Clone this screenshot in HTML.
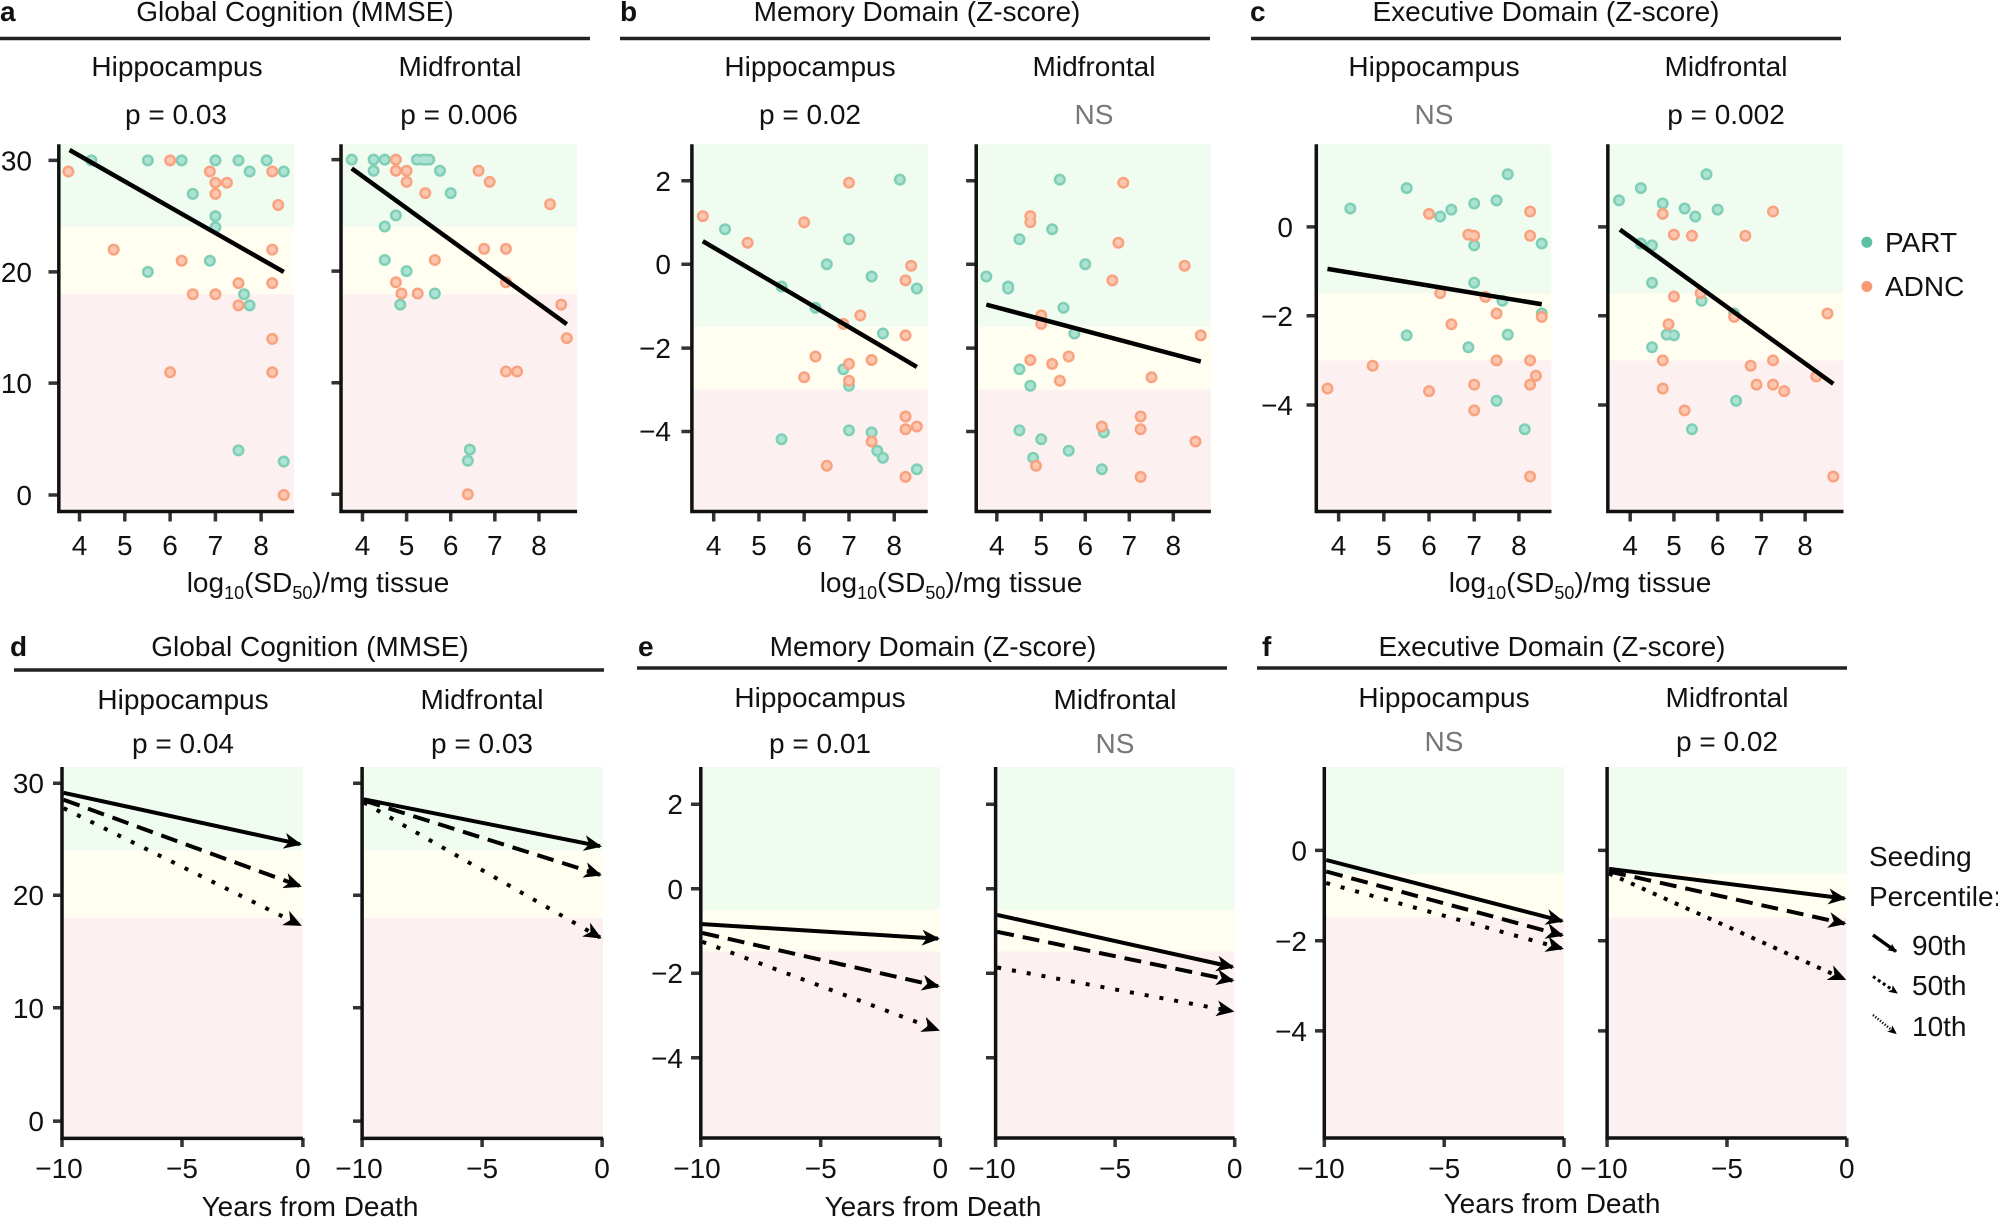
<!DOCTYPE html>
<html><head><meta charset="utf-8"><style>
html,body{margin:0;padding:0;background:#fff;}
svg{display:block;}
text{font-family:"Liberation Sans",Arial,sans-serif;fill:#111;}
.t{font-size:28px;}
.ns{fill:#777;}
.b{font-weight:bold;}
.ax{stroke:#111;stroke-width:3.5;fill:none;vector-effect:non-scaling-stroke;}
.tk{stroke:#333;stroke-width:3.5;fill:none;vector-effect:non-scaling-stroke;}
.rg{stroke:#000;stroke-width:4.5;fill:none;vector-effect:non-scaling-stroke;}
.to{stroke:#7fcfb6;stroke-width:12;stroke-linecap:round;fill:none;vector-effect:non-scaling-stroke;}
.ti{stroke:#ace3d2;stroke-width:7;stroke-linecap:round;fill:none;vector-effect:non-scaling-stroke;}
.oo{stroke:#f9a27f;stroke-width:12;stroke-linecap:round;fill:none;vector-effect:non-scaling-stroke;}
.oi{stroke:#fcc7b1;stroke-width:7;stroke-linecap:round;fill:none;vector-effect:non-scaling-stroke;}
.ln{stroke:#000;stroke-width:4;fill:none;}
.rule{stroke:#222;stroke-width:3.5;}
</style></head><body>
<svg width="1998" height="1219" viewBox="0 0 1998 1219" xmlns="http://www.w3.org/2000/svg">
<defs>
<marker id="ar" markerUnits="userSpaceOnUse" viewBox="-18 -9 20 18" markerWidth="20" markerHeight="18" refX="0" refY="0" orient="auto" overflow="visible">
<path d="M2,0 L-16,-8 L-11,0 L-16,8 Z" fill="#000"/>
</marker>
<marker id="ars" markerUnits="userSpaceOnUse" viewBox="-10 -5 12 10" markerWidth="12" markerHeight="10" refX="0" refY="0" orient="auto" overflow="visible">
<path d="M1,0 L-8,-4 L-6,0 L-8,4 Z" fill="#000"/>
</marker>
</defs>

<!-- ===== Panel a ===== -->
<g transform="translate(0,0) scale(0.39746,0.38462)">
<rect x="148" y="375" width="592" height="215" fill="#f0fcf0"/>
<rect x="148" y="590" width="592" height="175" fill="#fffef0"/>
<rect x="148" y="765" width="592" height="565" fill="#fdf0f0"/>
<rect x="862" y="375" width="590" height="215" fill="#f0fcf0"/>
<rect x="862" y="590" width="590" height="175" fill="#fffef0"/>
<rect x="862" y="765" width="590" height="565" fill="#fdf0f0"/>
<path class="tk" d="M122 417H148M122 707H148M122 996H148M122 1287H148M200 1330V1356M314 1330V1356M428 1330V1356M542 1330V1356M657 1330V1356"/>
<path class="tk" d="M834 415H858M834 705H858M834 995H858M834 1285H858M912 1330V1356M1023 1330V1356M1134 1330V1356M1245 1330V1356M1356 1330V1356"/>
<path class="to" d="M230 417h0M372 417h0M457 417h0M542 417h0M600 417h0M671 417h0M628 446h0M714 446h0M485 504h0M542 562h0M542 591h0M528 678h0M372 707h0M614 765h0M628 794h0M600 1171h0M714 1200h0"/>
<path class="ti" d="M230 417h0M372 417h0M457 417h0M542 417h0M600 417h0M671 417h0M628 446h0M714 446h0M485 504h0M542 562h0M542 591h0M528 678h0M372 707h0M614 765h0M628 794h0M600 1171h0M714 1200h0"/>
<path class="oo" d="M172 446h0M428 417h0M528 446h0M685 446h0M542 475h0M571 475h0M542 504h0M700 533h0M286 649h0M685 649h0M457 678h0M600 736h0M685 736h0M485 765h0M542 765h0M600 794h0M685 881h0M428 968h0M685 968h0M714 1287h0"/>
<path class="oi" d="M172 446h0M428 417h0M528 446h0M685 446h0M542 475h0M571 475h0M542 504h0M700 533h0M286 649h0M685 649h0M457 678h0M600 736h0M685 736h0M485 765h0M542 765h0M600 794h0M685 881h0M428 968h0M685 968h0M714 1287h0"/>
<path class="to" d="M885 415h0M940 415h0M968 415h0M1049 415h0M1064 415h0M1071 415h0M1080 415h0M940 444h0M1107 444h0M1134 502h0M996 560h0M968 589h0M968 676h0M1023 705h0M1094 763h0M1007 792h0M1182 1169h0M1177 1198h0"/>
<path class="ti" d="M885 415h0M940 415h0M968 415h0M1049 415h0M1064 415h0M1071 415h0M1080 415h0M940 444h0M1107 444h0M1134 502h0M996 560h0M968 589h0M968 676h0M1023 705h0M1094 763h0M1007 792h0M1182 1169h0M1177 1198h0"/>
<path class="oo" d="M996 415h0M996 444h0M1023 444h0M1204 444h0M1023 473h0M1232 473h0M1070 502h0M1384 531h0M1218 647h0M1273 647h0M1094 676h0M996 734h0M1273 734h0M1010 763h0M1051 763h0M1412 792h0M1426 879h0M1273 966h0M1301 966h0M1177 1285h0"/>
<path class="oi" d="M996 415h0M996 444h0M1023 444h0M1204 444h0M1023 473h0M1232 473h0M1070 502h0M1384 531h0M1218 647h0M1273 647h0M1094 676h0M996 734h0M1273 734h0M1010 763h0M1051 763h0M1412 792h0M1426 879h0M1273 966h0M1301 966h0M1177 1285h0"/>
<path class="rg" d="M175 390L714 707"/>
<path class="rg" d="M885 438L1426 843"/>
<path class="ax" d="M148 375V1330H740"/>
<path class="ax" d="M858 375V1330H1452"/>
</g>

<!-- ===== Panel b ===== -->
<g transform="translate(620,0) scale(0.40388,0.38462)">
<rect x="178" y="375" width="584" height="475" fill="#f0fcf0"/>
<rect x="178" y="850" width="584" height="163" fill="#fffef0"/>
<rect x="178" y="1013" width="584" height="317" fill="#fdf0f0"/>
<rect x="882" y="375" width="581" height="475" fill="#f0fcf0"/>
<rect x="882" y="850" width="581" height="163" fill="#fffef0"/>
<rect x="882" y="1013" width="581" height="317" fill="#fdf0f0"/>
<path class="tk" d="M152 470H178M152 687H178M152 905H178M152 1122H178M232 1330V1356M344 1330V1356M456 1330V1356M567 1330V1356M679 1330V1356"/>
<path class="tk" d="M857 470H882M857 687H882M857 905H882M857 1122H882M933 1330V1356M1043 1330V1356M1152 1330V1356M1261 1330V1356M1370 1330V1356"/>
<path class="to" d="M260 596h0M693 467h0M567 622h0M512 687h0M623 719h0M735 750h0M400 745h0M484 800h0M651 867h0M553 960h0M567 1003h0M567 1119h0M623 1124h0M400 1142h0M637 1172h0M651 1190h0M735 1220h0"/>
<path class="ti" d="M260 596h0M693 467h0M567 622h0M512 687h0M623 719h0M735 750h0M400 745h0M484 800h0M651 867h0M553 960h0M567 1003h0M567 1119h0M623 1124h0M400 1142h0M637 1172h0M651 1190h0M735 1220h0"/>
<path class="oo" d="M205 562h0M316 631h0M456 578h0M567 475h0M721 691h0M707 729h0M595 820h0M553 842h0M707 872h0M484 927h0M623 936h0M567 946h0M456 981h0M567 990h0M707 1083h0M735 1109h0M707 1116h0M623 1148h0M512 1211h0M707 1240h0"/>
<path class="oi" d="M205 562h0M316 631h0M456 578h0M567 475h0M721 691h0M707 729h0M595 820h0M553 842h0M707 872h0M484 927h0M623 936h0M567 946h0M456 981h0M567 990h0M707 1083h0M735 1109h0M707 1116h0M623 1148h0M512 1211h0M707 1240h0"/>
<path class="to" d="M1089 467h0M1070 596h0M989 622h0M1152 687h0M907 719h0M961 745h0M961 750h0M1098 800h0M1125 867h0M989 960h0M1016 1003h0M989 1119h0M1198 1124h0M1043 1142h0M1111 1172h0M1023 1190h0M1193 1220h0"/>
<path class="ti" d="M1089 467h0M1070 596h0M989 622h0M1152 687h0M907 719h0M961 745h0M961 750h0M1098 800h0M1125 867h0M989 960h0M1016 1003h0M989 1119h0M1198 1124h0M1043 1142h0M1111 1172h0M1023 1190h0M1193 1220h0"/>
<path class="oo" d="M1246 475h0M1016 562h0M1016 578h0M1234 631h0M1398 691h0M1219 729h0M1043 820h0M1043 842h0M1438 872h0M1016 936h0M1070 946h0M1111 927h0M1316 981h0M1089 990h0M1289 1083h0M1193 1109h0M1289 1116h0M1030 1211h0M1289 1240h0M1425 1148h0"/>
<path class="oi" d="M1246 475h0M1016 562h0M1016 578h0M1234 631h0M1398 691h0M1219 729h0M1043 820h0M1043 842h0M1438 872h0M1016 936h0M1070 946h0M1111 927h0M1316 981h0M1089 990h0M1289 1083h0M1193 1109h0M1289 1116h0M1030 1211h0M1289 1240h0M1425 1148h0"/>
<path class="rg" d="M205 627L735 954"/>
<path class="rg" d="M907 792L1438 940"/>
<path class="ax" d="M178 375V1330H762"/>
<path class="ax" d="M882 375V1330H1463"/>
</g>

<!-- ===== Panel c ===== -->
<g transform="translate(1240,0) scale(0.48591,0.38462)">
<rect x="157" y="375" width="484" height="388" fill="#f0fcf0"/>
<rect x="157" y="763" width="484" height="174" fill="#fffef0"/>
<rect x="157" y="937" width="484" height="393" fill="#fdf0f0"/>
<rect x="757" y="375" width="485" height="388" fill="#f0fcf0"/>
<rect x="757" y="763" width="485" height="174" fill="#fffef0"/>
<rect x="757" y="937" width="485" height="393" fill="#fdf0f0"/>
<path class="tk" d="M137 590H157M137 821H157M137 1053H157M203 1330V1356M296 1330V1356M389 1330V1356M482 1330V1356M574 1330V1356"/>
<path class="tk" d="M737 590H757M737 821H757M737 1053H757M803 1330V1356M893 1330V1356M983 1330V1356M1073 1330V1356M1163 1330V1356"/>
<path class="to" d="M227 542h0M343 489h0M412 563h0M435 545h0M482 529h0M528 521h0M551 453h0M482 638h0M621 633h0M482 735h0M540 782h0M621 815h0M343 872h0M551 870h0M470 903h0M528 1042h0M586 1116h0"/>
<path class="ti" d="M227 542h0M343 489h0M412 563h0M435 545h0M482 529h0M528 521h0M551 453h0M482 638h0M621 633h0M482 735h0M540 782h0M621 815h0M343 872h0M551 870h0M470 903h0M528 1042h0M586 1116h0"/>
<path class="oo" d="M389 556h0M597 550h0M470 610h0M482 613h0M597 613h0M412 762h0M505 772h0M528 815h0M621 824h0M435 843h0M273 951h0M528 937h0M597 937h0M609 977h0M180 1010h0M389 1017h0M482 1000h0M597 1000h0M482 1067h0M597 1239h0"/>
<path class="oi" d="M389 556h0M597 550h0M470 610h0M482 613h0M597 613h0M412 762h0M505 772h0M528 815h0M621 824h0M435 843h0M273 951h0M528 937h0M597 937h0M609 977h0M180 1010h0M389 1017h0M482 1000h0M597 1000h0M482 1067h0M597 1239h0"/>
<path class="to" d="M780 521h0M825 489h0M870 529h0M915 542h0M937 563h0M983 545h0M960 453h0M825 633h0M848 638h0M848 735h0M950 782h0M1017 815h0M878 870h0M893 872h0M848 903h0M1021 1042h0M930 1116h0"/>
<path class="ti" d="M780 521h0M825 489h0M870 529h0M915 542h0M937 563h0M983 545h0M960 453h0M825 633h0M848 638h0M848 735h0M950 782h0M1017 815h0M878 870h0M893 872h0M848 903h0M1021 1042h0M930 1116h0"/>
<path class="oo" d="M870 556h0M1097 550h0M893 610h0M930 613h0M1040 613h0M893 771h0M948 762h0M1017 824h0M1209 815h0M882 843h0M870 937h0M1051 951h0M1097 937h0M1186 979h0M870 1010h0M1063 1000h0M1097 1000h0M1120 1017h0M915 1067h0M1221 1239h0"/>
<path class="oi" d="M870 556h0M1097 550h0M893 610h0M930 613h0M1040 613h0M893 771h0M948 762h0M1017 824h0M1209 815h0M882 843h0M870 937h0M1051 951h0M1097 937h0M1186 979h0M870 1010h0M1063 1000h0M1097 1000h0M1120 1017h0M915 1067h0M1221 1239h0"/>
<path class="rg" d="M180 699L621 791"/>
<path class="rg" d="M782 597L1221 998"/>
<path class="ax" d="M157 375V1330H641"/>
<path class="ax" d="M757 375V1330H1242"/>
<path style="stroke:#5cc0a2;stroke-width:11;stroke-linecap:round;vector-effect:non-scaling-stroke" d="M1290 630h0"/>
<path style="stroke:#f99a72;stroke-width:11;stroke-linecap:round;vector-effect:non-scaling-stroke" d="M1290 745h0"/>
</g>

<!-- Row 1 text -->
<g class="t">
<text x="0" y="21" class="b t">a</text>
<text x="295" y="21" text-anchor="middle" class="t">Global Cognition (MMSE)</text>
<line x1="0" y1="38.5" x2="590" y2="38.5" class="rule"/>
<text x="177" y="76" text-anchor="middle" class="t">Hippocampus</text>
<text x="176" y="124" text-anchor="middle" class="t">p = 0.03</text>
<text x="460" y="76" text-anchor="middle" class="t">Midfrontal</text>
<text x="459" y="124" text-anchor="middle" class="t">p = 0.006</text>
<g text-anchor="end" class="t"><text x="32" y="170.5">30</text><text x="32" y="282">20</text><text x="32" y="393">10</text><text x="32" y="505">0</text></g>
<g text-anchor="middle" class="t"><text x="79.5" y="555">4</text><text x="124.8" y="555">5</text><text x="170.1" y="555">6</text><text x="215.4" y="555">7</text><text x="261.1" y="555">8</text>
<text x="362.5" y="555">4</text><text x="406.6" y="555">5</text><text x="450.7" y="555">6</text><text x="494.8" y="555">7</text><text x="538.9" y="555">8</text></g>
<text x="318" y="592" text-anchor="middle" class="t">log<tspan font-size="18" dy="7">10</tspan><tspan dy="-7">(SD</tspan><tspan font-size="18" dy="7">50</tspan><tspan dy="-7">)/mg tissue</tspan></text>

<text x="620" y="21" class="b t">b</text>
<text x="917" y="21" text-anchor="middle" class="t">Memory Domain (Z-score)</text>
<line x1="620" y1="38.5" x2="1210" y2="38.5" class="rule"/>
<text x="810" y="76" text-anchor="middle" class="t">Hippocampus</text>
<text x="810" y="124" text-anchor="middle" class="t">p = 0.02</text>
<text x="1094" y="76" text-anchor="middle" class="t">Midfrontal</text>
<text x="1094" y="124" text-anchor="middle" class="t ns">NS</text>
<g text-anchor="end" class="t"><text x="671" y="191">2</text><text x="671" y="274">0</text><text x="671" y="358">−2</text><text x="671" y="441">−4</text></g>
<g text-anchor="middle" class="t"><text x="713.7" y="555">4</text><text x="758.9" y="555">5</text><text x="804.2" y="555">6</text><text x="849" y="555">7</text><text x="894.2" y="555">8</text>
<text x="996.8" y="555">4</text><text x="1041.2" y="555">5</text><text x="1085.3" y="555">6</text><text x="1129.3" y="555">7</text><text x="1173.3" y="555">8</text></g>
<text x="951" y="592" text-anchor="middle" class="t">log<tspan font-size="18" dy="7">10</tspan><tspan dy="-7">(SD</tspan><tspan font-size="18" dy="7">50</tspan><tspan dy="-7">)/mg tissue</tspan></text>

<text x="1250" y="21" class="b t">c</text>
<text x="1546" y="21" text-anchor="middle" class="t">Executive Domain (Z-score)</text>
<line x1="1251" y1="38.5" x2="1841" y2="38.5" class="rule"/>
<text x="1434" y="76" text-anchor="middle" class="t">Hippocampus</text>
<text x="1434" y="124" text-anchor="middle" class="t ns">NS</text>
<text x="1726" y="76" text-anchor="middle" class="t">Midfrontal</text>
<text x="1726" y="124" text-anchor="middle" class="t">p = 0.002</text>
<g text-anchor="end" class="t"><text x="1293" y="237">0</text><text x="1293" y="326">−2</text><text x="1293" y="415">−4</text></g>
<g text-anchor="middle" class="t"><text x="1338.6" y="555">4</text><text x="1383.8" y="555">5</text><text x="1429" y="555">6</text><text x="1474.2" y="555">7</text><text x="1518.9" y="555">8</text>
<text x="1630.2" y="555">4</text><text x="1673.9" y="555">5</text><text x="1717.7" y="555">6</text><text x="1761.4" y="555">7</text><text x="1805.1" y="555">8</text></g>
<text x="1580" y="592" text-anchor="middle" class="t">log<tspan font-size="18" dy="7">10</tspan><tspan dy="-7">(SD</tspan><tspan font-size="18" dy="7">50</tspan><tspan dy="-7">)/mg tissue</tspan></text>
<text x="1885" y="252" class="t">PART</text>
<text x="1885" y="296" class="t">ADNC</text>
</g>

<!-- ===== Row 2 ===== -->
<rect x="63.6" y="767" width="239.3" height="83.4" fill="#f0fcf0"/>
<rect x="63.6" y="850.4" width="239.3" height="67.6" fill="#fffef0"/>
<rect x="63.6" y="918" width="239.3" height="220" fill="#fdf0f0"/>
<rect x="363.7" y="767" width="239.3" height="83.4" fill="#f0fcf0"/>
<rect x="363.7" y="850.4" width="239.3" height="67.6" fill="#fffef0"/>
<rect x="363.7" y="918" width="239.3" height="220" fill="#fdf0f0"/>
<rect x="702.4" y="767" width="238" height="142.9" fill="#f0fcf0"/>
<rect x="702.4" y="909.9" width="238" height="41.5" fill="#fffef0"/>
<rect x="702.4" y="951.4" width="238" height="186" fill="#fdf0f0"/>
<rect x="997.2" y="767" width="237.5" height="142.9" fill="#f0fcf0"/>
<rect x="997.2" y="909.9" width="237.5" height="41.5" fill="#fffef0"/>
<rect x="997.2" y="951.4" width="237.5" height="186" fill="#fdf0f0"/>
<rect x="1326.2" y="767" width="237.8" height="106.5" fill="#f0fcf0"/>
<rect x="1326.2" y="873.5" width="237.8" height="44.1" fill="#fffef0"/>
<rect x="1326.2" y="917.6" width="237.8" height="220" fill="#fdf0f0"/>
<rect x="1609.1" y="767" width="237.7" height="106.5" fill="#f0fcf0"/>
<rect x="1609.1" y="873.5" width="237.7" height="44.1" fill="#fffef0"/>
<rect x="1609.1" y="917.6" width="237.7" height="220" fill="#fdf0f0"/>

<g stroke="#333" stroke-width="3.5">
<path d="M53 783.2H62M53 895.3H62M53 1007.8H62M53 1121.1H62M62 1138V1147M182 1138V1147M302.9 1138V1147"/>
<path d="M353 783.2H362M353 895.3H362M353 1007.8H362M353 1121.1H362M362.1 1138V1147M482.1 1138V1147M602.1 1138V1147"/>
<path d="M691 804.3H701M691 888.8H701M691 973.3H701M691 1057.8H701M700.8 1138V1147M820.7 1138V1147M940.3 1138V1147"/>
<path d="M986 804.3H996M986 888.8H996M986 973.3H996M986 1057.8H996M995.6 1138V1147M1115.1 1138V1147M1234.7 1138V1147"/>
<path d="M1315 850.4H1324M1315 940.7H1324M1315 1030.9H1324M1324.3 1138V1147M1444.2 1138V1147M1564 1138V1147"/>
<path d="M1598 850.4H1607M1598 940.7H1607M1598 1030.9H1607M1607.1 1138V1147M1727 1138V1147M1846.8 1138V1147"/>
</g>

<g class="ln" stroke-linecap="butt">
<line x1="63.6" y1="792.8" x2="300" y2="844.2" marker-end="url(#ar)"/>
<line x1="63.6" y1="799.7" x2="300" y2="886.1" stroke-dasharray="17 9" marker-end="url(#ar)"/>
<line x1="63.6" y1="808.2" x2="300" y2="925" stroke-dasharray="4 11" marker-end="url(#ar)"/>
<line x1="363.7" y1="799.3" x2="600" y2="846.2" marker-end="url(#ar)"/>
<line x1="363.7" y1="800.5" x2="600" y2="874.8" stroke-dasharray="17 9" marker-end="url(#ar)"/>
<line x1="363.7" y1="802.4" x2="600" y2="937.5" stroke-dasharray="4 11" marker-end="url(#ar)"/>
<line x1="702.4" y1="924.1" x2="938" y2="938.6" marker-end="url(#ar)"/>
<line x1="702.4" y1="933" x2="938" y2="986.2" stroke-dasharray="17 9" marker-end="url(#ar)"/>
<line x1="702.4" y1="941.8" x2="938" y2="1030" stroke-dasharray="4 11" marker-end="url(#ar)"/>
<line x1="997.2" y1="914.9" x2="1232.5" y2="967" marker-end="url(#ar)"/>
<line x1="997.2" y1="931.8" x2="1232.5" y2="980.5" stroke-dasharray="17 9" marker-end="url(#ar)"/>
<line x1="997.2" y1="967.5" x2="1232.5" y2="1011.3" stroke-dasharray="4 11" marker-end="url(#ar)"/>
<line x1="1326.2" y1="860" x2="1562" y2="921" marker-end="url(#ar)"/>
<line x1="1326.2" y1="871.5" x2="1562" y2="935.2" stroke-dasharray="17 9" marker-end="url(#ar)"/>
<line x1="1326.2" y1="883" x2="1562" y2="948.5" stroke-dasharray="4 11" marker-end="url(#ar)"/>
<line x1="1609.1" y1="868.8" x2="1844.5" y2="898.5" marker-end="url(#ar)"/>
<line x1="1609.1" y1="871.5" x2="1844.5" y2="923.5" stroke-dasharray="17 9" marker-end="url(#ar)"/>
<line x1="1609.1" y1="873.5" x2="1844.5" y2="979.2" stroke-dasharray="4 8" marker-end="url(#ar)"/>
</g>

<g stroke="#111" stroke-width="3.5" fill="none">
<path d="M62 767V1138.4H302.9"/>
<path d="M362.1 767V1138.4H603"/>
<path d="M700.8 767V1138H940.3"/>
<path d="M995.6 767V1138H1234.7"/>
<path d="M1324.3 767V1138H1564"/>
<path d="M1607.1 767V1138H1846.8"/>
</g>

<g fill="none" stroke="#000">
<line x1="1873" y1="935" x2="1896" y2="951.5" stroke-width="3.5" marker-end="url(#ars)"/>
<line x1="1873" y1="976.5" x2="1897" y2="993" stroke-width="3" stroke-dasharray="3 3" marker-end="url(#ars)"/>
<line x1="1873" y1="1015" x2="1896" y2="1033.5" stroke-width="2.5" stroke-dasharray="1.2 1.8" marker-end="url(#ars)"/>
</g>

<g class="t">
<text x="10" y="656" class="b t">d</text>
<text x="310" y="656" text-anchor="middle" class="t">Global Cognition (MMSE)</text>
<line x1="14" y1="670" x2="604" y2="670" class="rule"/>
<text x="183" y="709" text-anchor="middle" class="t">Hippocampus</text>
<text x="183" y="753" text-anchor="middle" class="t">p = 0.04</text>
<text x="482" y="709" text-anchor="middle" class="t">Midfrontal</text>
<text x="482" y="753" text-anchor="middle" class="t">p = 0.03</text>
<g text-anchor="end" class="t"><text x="44" y="793">30</text><text x="44" y="905">20</text><text x="44" y="1018">10</text><text x="44" y="1131">0</text></g>
<g text-anchor="middle" class="t"><text x="59" y="1178">−10</text><text x="182" y="1178">−5</text><text x="302.9" y="1178">0</text>
<text x="359" y="1178">−10</text><text x="482.1" y="1178">−5</text><text x="602.1" y="1178">0</text></g>
<text x="310" y="1216" text-anchor="middle" class="t">Years from Death</text>

<text x="638" y="656" class="b t">e</text>
<text x="933" y="656" text-anchor="middle" class="t">Memory Domain (Z-score)</text>
<line x1="637" y1="668" x2="1227" y2="668" class="rule"/>
<text x="820" y="707" text-anchor="middle" class="t">Hippocampus</text>
<text x="820" y="753" text-anchor="middle" class="t">p = 0.01</text>
<text x="1115" y="709" text-anchor="middle" class="t">Midfrontal</text>
<text x="1115" y="753" text-anchor="middle" class="t ns">NS</text>
<g text-anchor="end" class="t"><text x="683" y="814">2</text><text x="683" y="899">0</text><text x="683" y="983">−2</text><text x="683" y="1068">−4</text></g>
<g text-anchor="middle" class="t"><text x="697" y="1178">−10</text><text x="820.7" y="1178">−5</text><text x="940.3" y="1178">0</text>
<text x="992" y="1178">−10</text><text x="1115.1" y="1178">−5</text><text x="1234.7" y="1178">0</text></g>
<text x="933" y="1216" text-anchor="middle" class="t">Years from Death</text>

<text x="1262" y="656" class="b t">f</text>
<text x="1552" y="656" text-anchor="middle" class="t">Executive Domain (Z-score)</text>
<line x1="1257" y1="668" x2="1847" y2="668" class="rule"/>
<text x="1444" y="707" text-anchor="middle" class="t">Hippocampus</text>
<text x="1444" y="751" text-anchor="middle" class="t ns">NS</text>
<text x="1727" y="707" text-anchor="middle" class="t">Midfrontal</text>
<text x="1727" y="751" text-anchor="middle" class="t">p = 0.02</text>
<g text-anchor="end" class="t"><text x="1307" y="860.5">0</text><text x="1307" y="951">−2</text><text x="1307" y="1041">−4</text></g>
<g text-anchor="middle" class="t"><text x="1321" y="1178">−10</text><text x="1444.2" y="1178">−5</text><text x="1564" y="1178">0</text>
<text x="1604" y="1178">−10</text><text x="1727" y="1178">−5</text><text x="1846.8" y="1178">0</text></g>
<text x="1552" y="1213" text-anchor="middle" class="t">Years from Death</text>

<text x="1869" y="866" class="t">Seeding</text>
<text x="1869" y="906" class="t">Percentile:</text>
<text x="1912" y="955" class="t">90th</text>
<text x="1912" y="995" class="t">50th</text>
<text x="1912" y="1036" class="t">10th</text>
</g>
</svg>
</body></html>
